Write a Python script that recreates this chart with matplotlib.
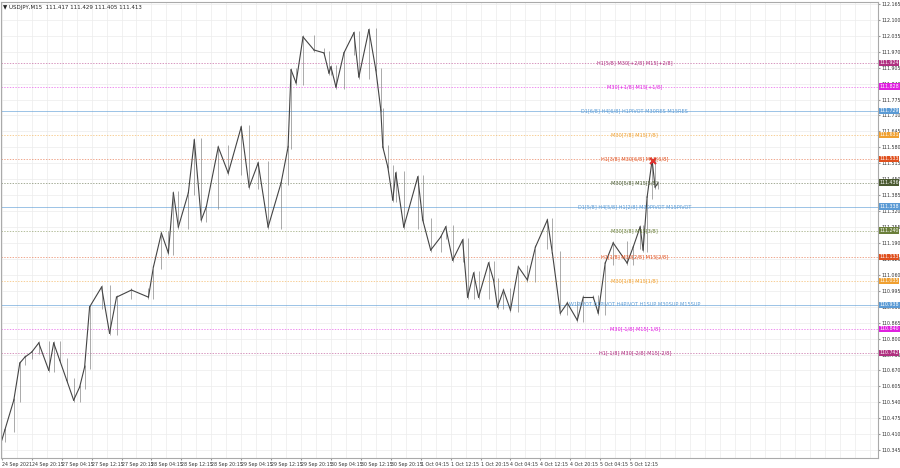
import matplotlib
matplotlib.use("Agg")
import matplotlib.pyplot as plt
import numpy as np

# key points of the price path: (bar index, price)
px_x = [0,3,12,18,23,30,37,47,52,58,65,72,78,83,88,100,108,115,130,147,152,160,167,172,177,187,193,200,205,217,227,240,248,257,267,280,287,290,295,302,313,323,328,
        330,335,343,353,358,368,375,380,382,387,392,395,403,417,422,430,440,445,452,462,467,473,478,488,493,497,503,510,518,527,535,547,552,560,567,577,583,593,598,605,613,627,633,640,643,647,652,655,658]
px_y = [440,430,400,363,357,352,343,370,343,360,380,400,387,367,307,287,333,297,290,297,267,233,253,193,227,193,140,220,207,147,173,127,187,163,227,183,147,70,83,37,50,53,73,
        67,87,53,33,77,30,70,110,147,167,200,173,227,177,220,250,237,227,260,240,297,273,297,263,280,307,290,310,267,280,247,220,253,313,303,320,297,297,313,263,243,263,247,227,250,197,160,187,183]
bars = [x * 32 / 30 for x in px_x]
closes = [round(112.165 - (y - 4) / 245.05, 3) for y in px_y]

levels = [111.924, 111.828, 111.729, 111.631, 111.533, 111.436, 111.338, 111.240, 111.133, 111.035, 110.938, 110.840, 110.742]
level_names = ["H1[5/8] M30[+2/8] M15[+2/8]", "M30[+1/8] M15[+1/8]", "D1[6/8] H4[6/8] H1PIVOT M30RES M15RES",
               "M30[7/8] M15[7/8]", "H1[3/8] M30[6/8] M15[6/8]", "M30[5/8] M15[5/8]",
               "D1[5/8] H4[5/8] H1[2/8] M30PIVOT M15PIVOT", "M30[3/8] M15[3/8]", "H1[1/8] M30[2/8] M15[2/8]",
               "M30[1/8] M15[1/8]", "W1PIVOT D1PIVOT H4PIVOT H1SUP M30SUP M15SUP", "M30[-1/8] M15[-1/8]",
               "H1[-1/8] M30[-2/8] M15[-2/8]"]
level_colors = ["#b03080", "#e020e0", "#5b9bd5", "#f0a030", "#e0501e", "#4a5a30", "#5b9bd5", "#6b7f3a",
                "#e0501e", "#f0a030", "#5b9bd5", "#e020e0", "#b03080"]
level_solid = [False, False, True, False, False, False, True, False, False, False, True, False, False]

tick_labels = ["24 Sep 2021", "24 Sep 20:15", "27 Sep 04:15", "27 Sep 12:15", "27 Sep 20:15", "28 Sep 04:15",
               "28 Sep 12:15", "28 Sep 20:15", "29 Sep 04:15", "29 Sep 12:15", "29 Sep 20:15", "30 Sep 04:15",
               "30 Sep 12:15", "30 Sep 20:15", "1 Oct 04:15", "1 Oct 12:15", "1 Oct 20:15", "4 Oct 04:15",
               "4 Oct 12:15", "4 Oct 20:15", "5 Oct 04:15", "5 Oct 12:15"]
yticks = [112.165, 112.100, 112.035, 111.970, 111.905, 111.840, 111.775, 111.710, 111.645, 111.580, 111.515,
          111.450, 111.385, 111.320, 111.255, 111.190, 111.125, 111.060, 110.995, 110.930, 110.865, 110.800,
          110.735, 110.670, 110.605, 110.540, 110.475, 110.410, 110.345]

fig = plt.figure(figsize=(9, 4.68), dpi=100)
ax = fig.add_axes([0.001, 0.021, 0.974, 0.975])
xmax = 878 * 32 / 30
ax.set_xlim(-1, xmax)
ax.set_ylim(112.165 - (458 - 4) / 245.05, 112.165 + 2 / 245.05)

ax.set_yticks(yticks)
ax.set_yticklabels([f"{t:.3f}" for t in yticks], fontsize=3.4, color="#333")
ax.yaxis.tick_right()
ax.set_xticks([i * 32 for i in range(len(tick_labels))])
ax.set_xticklabels(tick_labels, fontsize=3.4, color="#333", ha="left")
ax.tick_params(length=1.5, pad=1, color="#999")
ax.set_xticks(np.arange(0, xmax, 16), minor=True)
ax.tick_params(which="minor", length=0)
ax.grid(True, which="both", color="#ececec", linewidth=0.5)
ax.set_axisbelow(True)
for s in ax.spines.values():
    s.set_color("#aaaaaa")

for lv, nm, c, solid in zip(levels, level_names, level_colors, level_solid):
    if solid:
        ax.axhline(lv, color=c, lw=0.6, alpha=0.7)
    else:
        ax.axhline(lv, color=c, lw=0.5, ls=(0, (2, 2)), alpha=0.7)
    ax.text(677, lv, nm, fontsize=3.6, color=c, ha="center", va="center")
    ax.text(1.002, lv, f"{lv:.3f}", transform=ax.get_yaxis_transform(), fontsize=3.4, color="white",
            ha="left", va="center", bbox=dict(boxstyle="square,pad=0.15", fc=c, ec="none"), zorder=5)

# candles between key points
for i in range(1, len(bars)):
    o, c = closes[i - 1], closes[i]
    x0, x1 = bars[i - 1], bars[i]
    ax.plot([x0, x1], [o, c], color="#444", lw=0.8)
    ax.vlines(x1, min(o, c) - 0.008, max(o, c) + 0.008, color="#888", lw=0.5)

ax.plot(bars[-3] + 0.5, 111.525, marker="x", color="#e03030", ms=5, mew=1.5)

fig.text(0.003, 0.99, "\u25bc USDJPY,M15  111.417 111.429 111.405 111.413", fontsize=4.0, color="#222", va="top")
fig.savefig("out.png", dpi=100, facecolor="white")
